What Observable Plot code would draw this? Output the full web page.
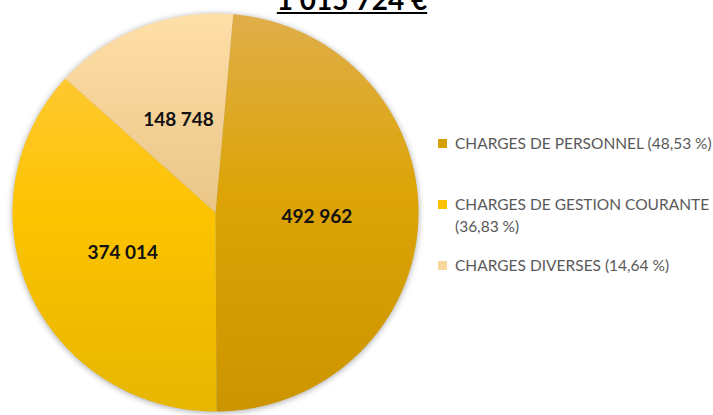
<!DOCTYPE html>
<html>
<head>
<meta charset="utf-8">
<script src="https://cdn.jsdelivr.net/npm/d3@7"></script>
<script src="https://cdn.jsdelivr.net/npm/@observablehq/plot@0.6"></script>
<style>
  html, body { margin: 0; padding: 0; background: #fff; overflow: hidden; }
  #wrap { position: relative; width: 713px; height: 415px; overflow: hidden; }
  #wrap svg { position: absolute; left: 0; top: 0; }
  #title { position: absolute; left: 352px; top: -15px; transform: translateX(-50%);
           font-family: Lato, sans-serif; font-weight: bold; font-size: 28px; line-height: 28px;
           color: #000; white-space: nowrap; text-decoration: underline;
           text-decoration-thickness: 2px; text-underline-offset: 2px; }
  #legend { position: absolute; left: 438px; top: 0; width: 275px; height: 415px;
            font-family: Lato, "Open Sans", sans-serif; font-size: 15.5px; color: #595959; white-space: nowrap; }
  .item { position: absolute; left: 0; padding-left: 17px; line-height: 22px; }
  .sw { position: absolute; left: 0; top: 6.5px; width: 9px; height: 9px; }
</style>
</head>
<body>
<div id="wrap"><div id="title"></div><div id="legend"></div></div>
<script>
// ---- data ----
const categories = ["CHARGES DE PERSONNEL", "CHARGES DE GESTION COURANTE", "CHARGES DIVERSES"];
const values = [492962, 374014, 148748];
const percentLabels = ["48,53 %", "36,83 %", "14,64 %"];

// ---- style ----
const swatchColors = ["#D6A000", "#FCC200", "#F9D89E"];
const gradients = [
  [["0", "#E0AE4A"], ["0.45", "#DCA406"], ["1", "#CC9500"]],
  [["0", "#FFCB48"], ["0.5", "#FDC300"], ["1", "#E6B600"]],
  [["0", "#FFDFA8"], ["0.5", "#E9C587"], ["1", "#E9C587"]]
];
const startAngle = 5 * Math.PI / 180;

const fr = d3.formatLocale({decimal: ",", thousands: " ", grouping: [3], currency: ["", " €"]});
const fmt = fr.format(",d");
const total = d3.sum(values);
const title = fmt(total) + " €";

const arcs = d3.pie().sort(null).startAngle(startAngle).endAngle(startAngle + 2 * Math.PI)(values);

const pts = [];
arcs.forEach((a, i) => {
  const g = `url(#grad${i})`;
  pts.push({slice: i, x: 0, y: 0, g});
  const n = Math.max(2, Math.ceil((a.endAngle - a.startAngle) / (Math.PI / 360)));
  for (let k = 0; k <= n; k++) {
    const t = a.startAngle + (a.endAngle - a.startAngle) * k / n;
    pts.push({slice: i, x: Math.sin(t), y: Math.cos(t), g});
  }
  pts.push({slice: i, x: 0, y: 0, g});
});

const labels = arcs.map((a, i) => {
  const m = (a.startAngle + a.endAngle) / 2;
  return {x: 0.5 * Math.sin(m), y: 0.5 * Math.cos(m), text: fmt(values[i])};
});

const plot = Plot.plot({
  width: 713,
  height: 415,
  margin: 0,
  x: {domain: [-1, 1], range: [12, 418], axis: null},
  y: {domain: [-1, 1], range: [411, 13], axis: null},
  color: {type: "identity"},
  marks: [
    Plot.line(pts, {x: "x", y: "y", z: "slice", fill: "g", stroke: "none",
      imageFilter: "drop-shadow(0px 1px 3px rgba(0,0,0,0.35))"}),
    Plot.text(labels, {x: "x", y: "y", text: "text", fontFamily: "Lato", fontWeight: "bold",
      fontSize: 19, fill: "#111"})
  ]
});

const svg = d3.select(plot);
const defs = svg.insert("defs", ":first-child");
gradients.forEach((stops, i) => {
  const lg = defs.append("linearGradient").attr("id", `grad${i}`)
    .attr("gradientUnits", "userSpaceOnUse").attr("x1", 0).attr("y1", 13).attr("x2", 0).attr("y2", 411);
  stops.forEach(([o, c]) => lg.append("stop").attr("offset", o).attr("stop-color", c));
});

document.getElementById("wrap").prepend(plot);
document.getElementById("title").textContent = title;

const legend = d3.select("#legend");
const tops = [132, 193, 254];
categories.forEach((c, i) => {
  const it = legend.append("div").attr("class", "item").style("top", tops[i] + "px");
  it.append("span").attr("class", "sw").style("background", swatchColors[i]);
  if (i === 1) {
    it.append("span").text(c);
    it.append("br");
    it.append("span").text("(" + percentLabels[i] + ")");
  } else {
    it.append("span").text(c + " (" + percentLabels[i] + ")");
  }
});
</script>
</body>
</html>
